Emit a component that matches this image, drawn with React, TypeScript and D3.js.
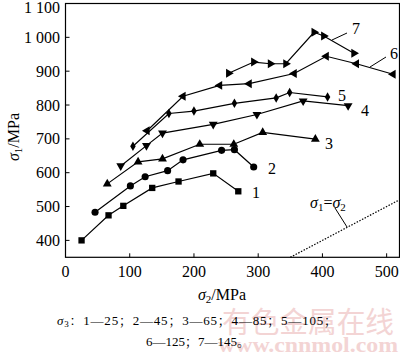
import React from "react";
import * as d3 from "d3";

const xTicks = [0, 100, 200, 300, 400, 500];
const yTicks = [400, 500, 600, 700, 800, 900, 1000, 1100];
const yTickLabels = ["400", "500", "600", "700", "800", "900", "1 000", "1 100"];

const s1x = [25, 67, 90, 135, 176, 230, 269];
const s1y = [400, 474, 502, 555, 574, 598, 545];
const s2x = [46, 101, 124, 159, 183, 243, 263, 293];
const s2y = [483, 561, 588, 606, 638, 666, 668, 617];
const s3x = [65, 113, 151, 209, 262, 307, 389];
const s3y = [567, 632, 641, 684, 684, 719, 699];
const s4x = [86, 126, 151, 230, 298, 370, 440];
const s4y = [620, 680, 717, 743, 772, 812, 798];
const s5x = [105, 161, 200, 263, 328, 349, 408];
const s5y = [678, 775, 782, 805, 821, 837, 824];
const s6x = [127, 183, 240, 286, 356, 406, 453, 510];
const s6y = [724, 826, 858, 863, 893, 944, 922, 891];
const s7x = [254, 293, 319, 343, 387, 402, 449];
const s7y = [894, 927, 922, 922, 1015, 1004, 953];

const seriesNames = ["1", "2", "3", "4", "5", "6", "7"];
const equalLine = [350, 520];

const FONT = "'Liberation Serif', 'Times New Roman', 'Noto Serif CJK SC', 'Noto Sans CJK SC', serif";

export default function App() {
  const W = 400, H = 357;
  const x = d3.scaleLinear().domain([0, 520]).range([65.5, 399.5]);
  const y = d3.scaleLinear().domain([350, 1100]).range([257.3, 3.5]);
  const xs = [s1x, s2x, s3x, s4x, s5x, s6x, s7x];
  const ys = [s1y, s2y, s3y, s4y, s5y, s6y, s7y];
  const markers: { type: d3.SymbolType; rot: number; size: number }[] = [
    { type: d3.symbolSquare, rot: 0, size: 40 },
    { type: d3.symbolCircle, rot: 0, size: 40 },
    { type: d3.symbolTriangle, rot: 0, size: 34 },
    { type: d3.symbolTriangle, rot: 180, size: 34 },
    { type: d3.symbolDiamond, rot: 0, size: 26 },
    { type: d3.symbolTriangle, rot: -90, size: 34 },
    { type: d3.symbolTriangle, rot: 90, size: 34 },
  ];
  const line = d3.line<[number, number]>().x((d) => x(d[0])).y((d) => y(d[1]));

  const labelPos = [
    { lx: 252, ly: 198 },
    { lx: 268, ly: 174 },
    { lx: 325, ly: 149 },
    { lx: 361, ly: 116 },
    { lx: 338, ly: 101 },
    { lx: 390, ly: 59 },
    { lx: 352, ly: 34 },
  ];

  return (
    <svg width={W} height={H} style={{ display: "block", position: "absolute", left: 0, top: 0 }} fontFamily={FONT}>
      <rect width={W} height={H} fill="#fff" />
      {/* watermark */}
      <text x={222} y={333} fontSize={29} fill="#f3d4d4" fontFamily="'Noto Sans CJK SC', sans-serif" textLength={172} lengthAdjust="spacingAndGlyphs">有色金属在线</text>
      <text x={218} y={352} fontSize={20} fontWeight="bold" fill="#f3d4d4" fontFamily="'Liberation Serif', serif" textLength={180} lengthAdjust="spacingAndGlyphs">www.cnnmol.com</text>

      {/* frame */}
      <rect x={x(0)} y={y(1100)} width={x(520) - x(0)} height={y(350) - y(1100)} fill="none" stroke="#000" strokeWidth={1.2} />
      {xTicks.map((t) => (
        <g key={"xt" + t}>
          {t > 0 && <line x1={x(t)} x2={x(t)} y1={y(350)} y2={y(350) - 4} stroke="#000" strokeWidth={1} />}
          <text x={x(t)} y={277} fontSize={16} textAnchor="middle">{t}</text>
        </g>
      ))}
      {yTicks.map((t, i) => (
        <g key={"yt" + t}>
          {t < 1100 && <line x1={x(0)} x2={x(0) + 4} y1={y(t)} y2={y(t)} stroke="#000" strokeWidth={1} />}
          <text x={60} y={Math.max(y(t), 7)} dy="0.35em" fontSize={16} textAnchor="end">{yTickLabels[i]}</text>
        </g>
      ))}

      {/* axis titles */}
      <text x={222} y={300} fontSize={16} textAnchor="middle">
        <tspan fontStyle="italic">σ</tspan>
        <tspan fontSize={11} dy={3}>2</tspan>
        <tspan dy={-3}>/MPa</tspan>
      </text>
      <text transform="translate(19,137) rotate(-90)" fontSize={16} textAnchor="middle">
        <tspan fontStyle="italic">σ</tspan>
        <tspan fontSize={11} dy={3}>1</tspan>
        <tspan dy={-3}>/MPa</tspan>
      </text>

      {/* sigma1 = sigma2 line */}
      <line x1={x(equalLine[0])} y1={y(equalLine[0])} x2={x(equalLine[1])} y2={y(equalLine[1])} stroke="#000" strokeWidth={1.2} strokeDasharray="1.5,1.5" />
      <line x1={335} y1={208} x2={347} y2={227} stroke="#000" strokeWidth={1} />
      <text x={310} y={208} fontSize={16}>
        <tspan fontStyle="italic">σ</tspan>
        <tspan fontSize={11} dy={3}>1</tspan>
        <tspan dy={-3}>=</tspan>
        <tspan fontStyle="italic">σ</tspan>
        <tspan fontSize={11} dy={3}>2</tspan>
      </text>

      {/* series */}
      {xs.map((sx, i) => {
        const pts = sx.map((v, j) => [v, ys[i][j]] as [number, number]);
        const m = markers[i];
        const path = d3.symbol().type(m.type).size(m.size)()!;
        return (
          <g key={"s" + i}>
            <path d={line(pts)!} fill="none" stroke="#000" strokeWidth={1.2} />
            {pts.map((p, j) => (
              <path key={j} d={path} transform={`translate(${x(p[0])},${y(p[1])}) rotate(${m.rot})`} fill="#000" />
            ))}
            <text x={labelPos[i].lx} y={labelPos[i].ly} fontSize={16}>{seriesNames[i]}</text>
          </g>
        );
      })}
      {/* leader lines for 6 and 7 */}
      <line x1={370} y1={67} x2={386} y2={57} stroke="#000" strokeWidth={1} />
      <line x1={332} y1={40} x2={347} y2={33} stroke="#000" strokeWidth={1} />

      {/* caption */}
      <text x={57} y={325} fontSize={13} textLength={280} lengthAdjust="spacing">
        <tspan fontStyle="italic">σ</tspan>
        <tspan fontSize={9} dy={2}>3</tspan>
        <tspan dy={-2}>：1—25；2—45；3—65；4—85；5—105；</tspan>
      </text>
      <text x={146} y={346} fontSize={13}>6—125；7—145。</text>
    </svg>
  );
}
